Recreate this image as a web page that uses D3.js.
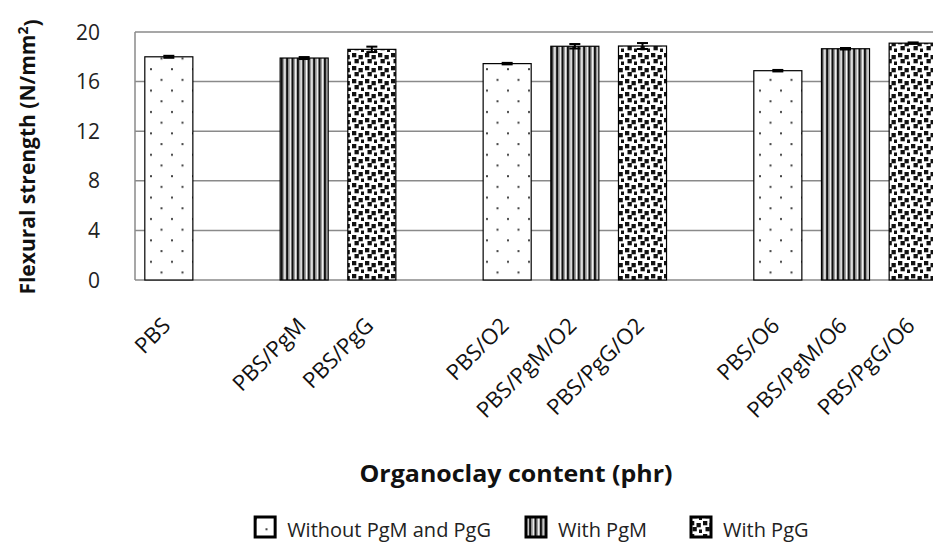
<!DOCTYPE html>
<html>
<head>
<meta charset="utf-8">
<script src="https://cdn.jsdelivr.net/npm/d3@7"></script>
<style>
  html, body { margin: 0; padding: 0; background: #fff; overflow: hidden; }
  svg { display: block; }
</style>
</head>
<body>
<svg id="chart" width="933" height="543"></svg>
<script>
// ---------- data ----------
const categories = ["PBS", "", "PBS/PgM", "PBS/PgG", "", "PBS/O2", "PBS/PgM/O2", "PBS/PgG/O2", "", "PBS/O6", "PBS/PgM/O6", "PBS/PgG/O6"];
const values = [18.0, null, 17.9, 18.6, null, 17.45, 18.85, 18.87, null, 16.88, 18.65, 19.1];
const errors = [0.08, null, 0.08, 0.22, null, 0.06, 0.18, 0.24, null, 0.06, 0.06, 0.06];
const seriesOf = ["without", null, "pgm", "pgg", null, "without", "pgm", "pgg", null, "without", "pgm", "pgg"];
const legendKeys = ["without", "pgm", "pgg"];
const legendLabels = ["Without PgM and PgG", "With PgM", "With PgG"];
const yTicks = [0, 4, 8, 12, 16, 20];
const yTitle = "Flexural strength (N/mm";
const xTitle = "Organoclay content (phr)";

// ---------- setup ----------
const svg = d3.select("#chart");
const font = "'Open Sans', 'Noto Sans', sans-serif";
const mLeft = 135, mRight = 947, mTop = 32, mBottom = 280;

const x = d3.scaleBand().domain(d3.range(categories.length)).range([mLeft, mRight]).paddingInner(0.29).paddingOuter(0.145);
const y = d3.scaleLinear().domain([0, 20]).range([mBottom, mTop]);

// patterns
const defs = svg.append("defs");
const pDots = defs.append("pattern").attr("id", "p-without").attr("patternUnits", "userSpaceOnUse")
  .attr("width", 21).attr("height", 21.4);
pDots.append("rect").attr("width", 21).attr("height", 21.4).attr("fill", "#fff");
pDots.append("rect").attr("x", 3).attr("y", 4).attr("width", 2).attr("height", 2).attr("fill", "#444");
pDots.append("rect").attr("x", 13.5).attr("y", 14.7).attr("width", 2).attr("height", 2).attr("fill", "#444");

const pStr = defs.append("pattern").attr("id", "p-pgm").attr("patternUnits", "userSpaceOnUse")
  .attr("width", 5.4).attr("height", 10);
pStr.append("rect").attr("width", 5.4).attr("height", 10).attr("fill", "#fff");
pStr.append("rect").attr("x", 0).attr("width", 2.2).attr("height", 10).attr("fill", "#111");
pStr.append("rect").attr("x", 2.2).attr("width", 1.2).attr("height", 10).attr("fill", "#888");
pStr.append("rect").attr("x", 4.6).attr("width", 0.8).attr("height", 10).attr("fill", "#aaa");

const pConf = defs.append("pattern").attr("id", "p-pgg").attr("patternUnits", "userSpaceOnUse")
  .attr("width", 13).attr("height", 13);
pConf.append("rect").attr("width", 13).attr("height", 13).attr("fill", "#fff");
[[1, 1], [7.5, 3], [3.5, 7], [10, 9.5]].forEach(([a, b]) => {
  pConf.append("rect").attr("x", a).attr("y", b).attr("width", 4.3).attr("height", 4.3).attr("fill", "#111");
});

// gridlines
svg.append("g").selectAll("line").data(yTicks).join("line")
  .attr("x1", mLeft).attr("x2", 933)
  .attr("y1", d => y(d)).attr("y2", d => y(d))
  .attr("stroke", "#8a8a8a").attr("stroke-width", 1.5);
svg.append("line").attr("x1", mLeft).attr("x2", mLeft).attr("y1", y(20)).attr("y2", y(0))
  .attr("stroke", "#8a8a8a").attr("stroke-width", 1.5);

// y tick labels
svg.append("g").selectAll("text").data(yTicks).join("text")
  .attr("x", 100).attr("y", d => y(d)).attr("dy", "0.36em")
  .attr("text-anchor", "end").attr("font-family", font).attr("font-size", 21).attr("fill", "#222")
  .text(d => d);

// bars
const idx = d3.range(categories.length).filter(i => values[i] != null);
svg.append("g").selectAll("rect").data(idx).join("rect")
  .attr("x", i => x(i)).attr("width", x.bandwidth())
  .attr("y", i => y(values[i])).attr("height", i => y(0) - y(values[i]))
  .attr("fill", i => `url(#p-${seriesOf[i]})`)
  .attr("stroke", "#000").attr("stroke-width", 1.2);

// error bars
const eb = svg.append("g").attr("stroke", "#000").attr("stroke-width", 2);
idx.forEach(i => {
  const cx = x(i) + x.bandwidth() / 2;
  const y1 = y(values[i] + errors[i]), y2 = y(values[i] - errors[i]);
  eb.append("line").attr("x1", cx).attr("x2", cx).attr("y1", y1).attr("y2", y2);
  eb.append("line").attr("x1", cx - 5.5).attr("x2", cx + 5.5).attr("y1", y1).attr("y2", y1);
  eb.append("line").attr("x1", cx - 5.5).attr("x2", cx + 5.5).attr("y1", y2).attr("y2", y2);
});

// x labels
svg.append("g").selectAll("text").data(idx).join("text")
  .attr("transform", i => `translate(${x(i) + x.bandwidth() / 2 + 3},${327}) rotate(-45)`)
  .attr("text-anchor", "end")
  .attr("font-family", font).attr("font-size", 22).attr("fill", "#111")
  .text(i => categories[i]);

// axis titles
svg.append("text").attr("x", 516).attr("y", 482).attr("text-anchor", "middle")
  .attr("font-family", font).attr("font-weight", "bold").attr("font-size", 23).attr("fill", "#111")
  .attr("textLength", 313).attr("lengthAdjust", "spacingAndGlyphs")
  .text(xTitle);

const yt = svg.append("text").attr("transform", "translate(35,157) rotate(-90)").attr("text-anchor", "middle")
  .attr("font-family", font).attr("font-weight", "bold").attr("font-size", 21).attr("fill", "#111");
yt.append("tspan").text(yTitle);
yt.append("tspan").attr("dy", "-0.5em").attr("font-size", 14).text("2");
yt.append("tspan").attr("dy", "0.5em").text(")");

// legend
const lg = svg.append("g");
const legFont = 20, legBase = 537, iconSize = 20, gap = 12;
const textStarts = [null, 558, 723];
legendKeys.forEach((k, j) => {
  const t = lg.append("text").attr("y", legBase)
    .attr("font-family", font).attr("font-size", legFont).attr("fill", "#222").text(legendLabels[j]);
  const w = t.node().getComputedTextLength();
  const tx = j === 0 ? 491 - w : textStarts[j];
  t.attr("x", tx);
  lg.append("rect").attr("x", tx - gap - iconSize).attr("y", legBase - iconSize).attr("width", iconSize).attr("height", iconSize)
    .attr("fill", `url(#p-${k})`).attr("stroke", "#000").attr("stroke-width", 3);
});
</script>
</body>
</html>
